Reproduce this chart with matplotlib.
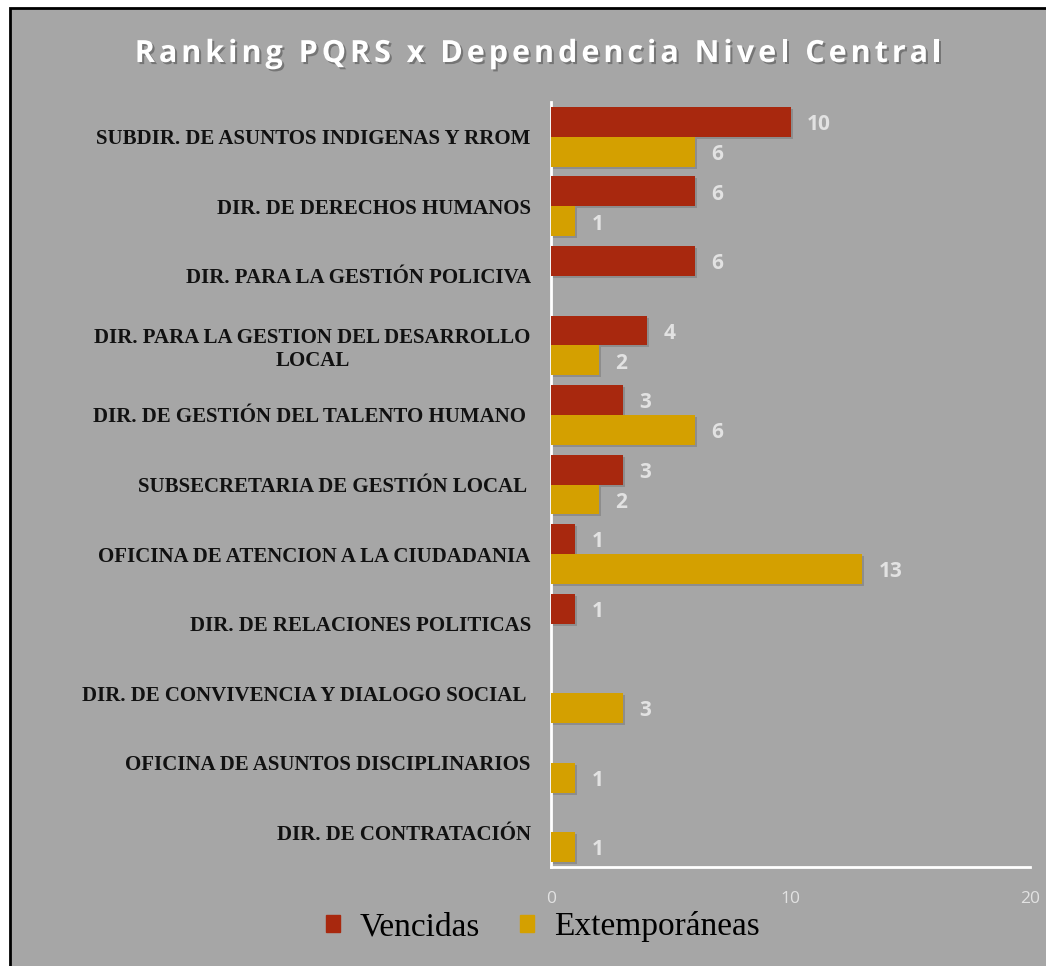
import matplotlib.pyplot as plt
import matplotlib.patheffects as pe
from matplotlib.patches import Rectangle
import numpy as np

# Datos del ranking
dependencias = [
    'SUBDIR. DE ASUNTOS INDIGENAS Y RROM',
    'DIR. DE DERECHOS HUMANOS',
    'DIR. PARA LA GESTIÓN POLICIVA',
    'DIR. PARA LA GESTION DEL DESARROLLO\nLOCAL',
    'DIR. DE GESTIÓN DEL TALENTO HUMANO ',
    'SUBSECRETARIA DE GESTIÓN LOCAL ',
    'OFICINA DE ATENCION A LA CIUDADANIA',
    'DIR. DE RELACIONES POLITICAS',
    'DIR. DE CONVIVENCIA Y DIALOGO SOCIAL ',
    'OFICINA DE ASUNTOS DISCIPLINARIOS',
    'DIR. DE CONTRATACIÓN',
]
vencidas = [10, 6, 6, 4, 3, 3, 1, 1, 0, 0, 0]
extemporaneas = [6, 1, 0, 2, 6, 2, 13, 0, 3, 1, 1]
x_ticks = [0, 10, 20]
titulo = 'Ranking PQRS x Dependencia Nivel Central'

BG = '#A6A6A6'
ROJO = '#A8280E'
AMARILLO = '#D4A000'
GRIS_CLARO = '#E2E2E2'

W, H = 1046, 966
fig = plt.figure(figsize=(W / 100, H / 100), dpi=100)
fig.patch.set_facecolor('white')

# Marco gris con borde negro
fig.patches.append(Rectangle((10 / W, -0.01), 1.0, 1 - 8 / H + 0.01,
                             transform=fig.transFigure, facecolor=BG,
                             edgecolor='black', linewidth=2, zorder=-5))

ax = fig.add_axes([551 / W, 1 - 867 / H, (1030 - 551) / W, (867 - 102) / H])
ax.set_facecolor('none')

n = len(dependencias)
y = np.arange(n)
h = 0.43

sombra_barra = [pe.SimplePatchShadow(offset=(1.5, -1.5), shadow_rgbFace='#444444', alpha=0.25),
                pe.Normal()]
bars_v = ax.barh(y - h / 2, vencidas, height=h, color=ROJO, zorder=3)
bars_e = ax.barh(y + h / 2, extemporaneas, height=h, color=AMARILLO, zorder=3)
for b in list(bars_v) + list(bars_e):
    b.set_path_effects(sombra_barra)

for bars, vals in [(bars_v, vencidas), (bars_e, extemporaneas)]:
    for b, v in zip(bars, vals):
        if v == 0:
            continue
        ax.annotate(str(v), (v, b.get_y() + b.get_height() / 2),
                    xytext=(12, -2), textcoords='offset points',
                    ha='left', va='center', fontsize=15, fontweight='bold',
                    color=GRIS_CLARO, family='Open Sans')

ax.set_ylim(n - 0.5, -0.5)
ax.set_xlim(0, 20)
ax.set_xticks(x_ticks)
ax.set_xticklabels([str(t) for t in x_ticks], color=GRIS_CLARO, fontsize=12.5,
                   family='Open Sans')
ax.set_yticks(y)
ax.set_yticklabels(dependencias, fontsize=15, fontweight='bold',
                   family='Liberation Serif', color='#111111',
                   multialignment='center')
ax.tick_params(axis='both', length=0)
ax.tick_params(axis='x', pad=17)
ax.tick_params(axis='y', pad=14.5)

for s in ['top', 'right']:
    ax.spines[s].set_visible(False)
for s in ['left', 'bottom']:
    ax.spines[s].set_color('white')
    ax.spines[s].set_linewidth(2)

# Título con espaciado entre letras
renderer = fig.canvas.get_renderer()
sombra = [pe.withSimplePatchShadow(offset=(1.5, -1.5), shadow_rgbFace='#555555', alpha=0.6)]
estilo = dict(fontsize=22, fontweight='bold', color='white', family='Open Sans',
              va='center', ha='left')
espacio = 4.0


def ancho(txt):
    t = fig.text(0, 0, txt, **estilo)
    w = t.get_window_extent(renderer).width
    t.remove()
    return w


w_esp = ancho('a a') - ancho('aa')
anchos = [w_esp if ch == ' ' else ancho(ch) for ch in titulo]
total = sum(anchos) + espacio * (len(titulo) - 1)
x0 = 538 - total / 2
for ch, a in zip(titulo, anchos):
    if ch != ' ':
        fig.text(x0 / W, 1 - 54 / H, ch, path_effects=sombra, **estilo)
    x0 += a + espacio

handles = [Rectangle((0, 0), 1, 1, color=ROJO), Rectangle((0, 0), 1, 1, color=AMARILLO)]
fig.legend(handles, ['Vencidas', 'Extemporáneas'], loc='center',
           bbox_to_anchor=(543 / W, 1 - 927 / H), ncol=2, frameon=False,
           prop={'family': 'Liberation Serif', 'size': 24},
           handlelength=0.42, handleheight=0.42, handletextpad=0.6,
           columnspacing=1.2)

fig.savefig('out.png', dpi=100, facecolor=fig.get_facecolor())
